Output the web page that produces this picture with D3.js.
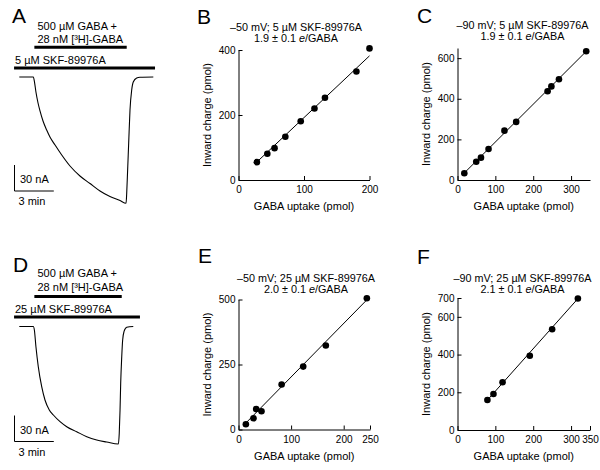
<!DOCTYPE html>
<html><head><meta charset="utf-8">
<script src="https://cdn.jsdelivr.net/npm/d3@7"></script>
<style>
body{margin:0;background:#fff}
svg{display:block}
text{font-family:"Liberation Sans",Arial,Helvetica,sans-serif;fill:#000}
</style>
</head><body>
<svg id="c" width="600" height="470"></svg>
<script>
// ---------- Data ----------
// Panel A trace (5 µM SKF-89976A): time (min), current (nA)
const traceA_time = [0, 1.07, 1.16, 1.27, 1.43, 1.58, 1.81, 2.09, 2.34, 2.73, 3.24, 3.87, 4.63, 5.40, 6.16, 6.92, 7.69, 8.15, 8.20, 8.27, 8.35, 8.45, 8.58, 8.70, 8.96, 9.21, 10.23];
const traceA_curr = [0, 0, -5.8, -17.3, -30, -39.2, -50.8, -61.2, -69.2, -78.5, -90, -102.7, -114.2, -122.9, -131.5, -137.9, -142.5, -145.7, -133.8, -107.3, -76.2, -38.1, -15, -5.8, -1.2, -0.3, 0];
// Panel D trace (25 µM SKF-89976A)
const traceD_time = [0, 1.07, 1.15, 1.27, 1.45, 1.71, 1.96, 2.29, 2.60, 3.11, 3.62, 4.38, 5.15, 5.91, 6.67, 7.56, 7.63, 7.69, 7.74, 7.82, 7.89, 7.99, 8.20, 8.70];
const traceD_curr = [0, 0, -4, -23.3, -46.4, -69.5, -84.8, -96.3, -102.1, -109.8, -115.6, -121.4, -127.2, -131, -133.3, -135.6, -123.2, -96.3, -65.5, -34.8, -15.6, -6, -0.9, 0];
// Application periods (min): [start, end]
const gabaA = [1.15, 8.2], skfA = [-0.4, 10.36];
const gabaD = [1.15, 7.82], skfD = [-0.4, 9.21];
const scaleBarCurrent = 30; // nA
const scaleBarTime = 3;     // min

// Scatter panels: GABA uptake (pmol) vs inward charge (pmol)
const B_uptake = [28, 44, 55, 71.5, 95, 116, 132, 180, 200];
const B_charge = [55, 81, 98, 133, 181, 220, 253, 334, 405];
const C_uptake = [18, 49.5, 62, 82, 124, 155, 238, 248, 268, 340];
const C_charge = [33, 90, 110, 153, 243, 286, 437, 461, 496, 634];
const E_uptake = [14, 28.5, 33.6, 43.7, 82, 123, 166, 244];
const E_charge = [20, 43, 79, 70, 173, 242, 323, 505];
const F_uptake = [79, 95, 119, 191, 250, 318];
const F_charge = [159, 191, 253, 394, 534, 697];
const fitSlope = [1.9, 1.86, 2.06, 2.25];
const fitIntercept = [2, 1, -4, -19];

const B_xTicks = [0, 100, 200], B_yTicks = [0, 200, 400];
const C_xTicks = [0, 100, 200, 300], C_yTicks = [0, 200, 400, 600];
const E_xTicks = [0, 100, 200, 250], E_yTicks = [0, 250, 500];
const F_xTicks = [0, 100, 200, 300, 350], F_yTicks = [0, 200, 400, 600, 700];

const titles1 = ["\u201350 mV; 5 \u00b5M SKF-89976A", "\u201390 mV; 5 \u00b5M SKF-89976A", "\u201350 mV; 25 \u00b5M SKF-89976A", "\u201390 mV; 25 \u00b5M SKF-89976A"];
const ratios = ["1.9 \u00b1 0.1 ", "1.9 \u00b1 0.1 ", "2.0 \u00b1 0.1 ", "2.1 \u00b1 0.1 "];

// ---------- Drawing ----------
const svg = d3.select('#c');
const FONT = '"Liberation Sans",Arial,Helvetica,sans-serif';

function letter(t, x, y) {
  svg.append('text').attr('x', x).attr('y', y).attr('font-size', 21).text(t);
}

function tracePanel(o) {
  const x = d3.scaleLinear().domain([0, 1]).range([o.px0, o.px0 + 13.1]);
  const y = d3.scaleLinear().domain([0, -30]).range([o.py0, o.py0 + 26]);
  const g = svg.append('g');
  const line = d3.line().x((d, i) => x(o.time[i])).y((d, i) => y(o.curr[i])).curve(d3.curveMonotoneX);
  g.append('path').attr('d', line(o.time)).attr('fill', 'none').attr('stroke', '#000').attr('stroke-width', 1.1);
  // application bars
  g.append('line').attr('x1', x(o.gaba[0])).attr('x2', x(o.gaba[1])).attr('y1', o.gabaY).attr('y2', o.gabaY)
    .attr('stroke', '#000').attr('stroke-width', 3);
  g.append('line').attr('x1', x(o.skf[0])).attr('x2', x(o.skf[1])).attr('y1', o.skfY).attr('y2', o.skfY)
    .attr('stroke', '#000').attr('stroke-width', 3);
  g.append('text').attr('x', o.txtX).attr('y', o.gabaY - o.l1).attr('font-size', 11).text('500 \u00b5M GABA +');
  g.append('text').attr('x', o.txtX).attr('y', o.gabaY - o.l2).attr('font-size', 11).text('28 nM [\u00b3H]-GABA');
  g.append('text').attr('x', 15).attr('y', o.skfY - 4).attr('font-size', 11).text(o.skfLabel);
  // scale bars
  const cx = 14.5, cy = o.barY;
  const vLen = y(-scaleBarCurrent) - y(0);
  const hLen = x(scaleBarTime) - x(0);
  g.append('path').attr('d', `M${cx},${cy - vLen}V${cy}H${cx + hLen}`).attr('fill', 'none').attr('stroke', '#000').attr('stroke-width', 1);
  g.append('text').attr('x', 20).attr('y', cy - 8).attr('font-size', 11).text(scaleBarCurrent + ' nA');
  g.append('text').attr('x', 18.5).attr('y', cy + 14).attr('font-size', 11).text(scaleBarTime + ' min');
}

tracePanel({time: traceA_time, curr: traceA_curr, px0: 19.3, py0: 77, gaba: gabaA, skf: skfA,
  gabaY: 47.3, skfY: 68, txtX: 37.5, l1: 17.8, l2: 4.6, skfLabel: '5 \u00b5M SKF-89976A', barY: 191});
tracePanel({time: traceD_time, curr: traceD_curr, px0: 19.3, py0: 326.5, gaba: gabaD, skf: skfD,
  gabaY: 296.5, skfY: 317, txtX: 37.5, l1: 20, l2: 5.5, skfLabel: '25 \u00b5M SKF-89976A', barY: 441.5});

function scatterPanel(o) {
  const x = d3.scaleLinear().domain(o.xDomain).range([o.x0, o.x1]);
  const y = d3.scaleLinear().domain(o.yDomain).range([o.y0, o.y1]);
  const g = svg.append('g');
  const ax = g.append('g').attr('transform', `translate(0,${o.y0})`)
    .call(d3.axisBottom(x).tickValues(o.xTicks).tickSize(-4).tickSizeOuter(0).tickPadding(6).tickFormat(d3.format('d')));
  const ay = g.append('g').attr('transform', `translate(${o.x0},0)`)
    .call(d3.axisLeft(y).tickValues(o.yTicks).tickSize(-4).tickSizeOuter(0).tickPadding(3).tickFormat(d3.format('d')));
  [ax, ay].forEach(a => {
    a.attr('font-family', FONT).attr('font-size', 10);
    a.selectAll('path,line').attr('stroke', '#000');
    a.selectAll('text').attr('fill', '#111');
  });
  // fit line
  const ext = d3.extent(o.xs);
  g.append('line').attr('x1', x(ext[0])).attr('x2', x(ext[1]))
    .attr('y1', y(o.slope * ext[0] + o.intercept)).attr('y2', y(o.slope * ext[1] + o.intercept))
    .attr('stroke', '#000').attr('stroke-width', 1);
  g.selectAll('circle.pt').data(o.xs).join('circle').attr('class', 'pt')
    .attr('cx', d => x(d)).attr('cy', (d, i) => y(o.ys[i])).attr('r', 3.3).attr('fill', '#000');
  // titles
  g.append('text').attr('x', o.tx).attr('y', o.t1y).attr('text-anchor', 'middle').attr('font-size', 10.8).text(o.title);
  const t2 = g.append('text').attr('x', o.tx).attr('y', o.t1y + 11).attr('text-anchor', 'middle').attr('font-size', 10.8);
  t2.append('tspan').text(o.ratio);
  t2.append('tspan').attr('font-style', 'italic').text('e');
  t2.append('tspan').text('/GABA');
  // axis labels
  g.append('text').attr('x', (o.x0 + o.x1) / 2).attr('y', o.y0 + 30).attr('text-anchor', 'middle').attr('font-size', 11)
    .text('GABA uptake (pmol)');
  g.append('text').attr('transform', `translate(${o.x0 - 28},${(o.y0 + o.y1) / 2}) rotate(-90)`)
    .attr('text-anchor', 'middle').attr('font-size', 11).text('Inward charge (pmol)');
}

scatterPanel({xs: B_uptake, ys: B_charge, xDomain: [0, 200], yDomain: [0, 400], xTicks: B_xTicks, yTicks: B_yTicks,
  x0: 238.5, x1: 369.5, y0: 180, y1: 50, slope: fitSlope[0], intercept: fitIntercept[0],
  title: titles1[0], ratio: ratios[0], tx: 296, t1y: 30.5});
scatterPanel({xs: C_uptake, ys: C_charge, xDomain: [0, 350], yDomain: [0, 650], xTicks: C_xTicks, yTicks: C_yTicks,
  x0: 457.5, x1: 590, y0: 180, y1: 48, slope: fitSlope[1], intercept: fitIntercept[1],
  title: titles1[1], ratio: ratios[1], tx: 522.5, t1y: 29});
scatterPanel({xs: E_uptake, ys: E_charge, xDomain: [0, 250], yDomain: [0, 500], xTicks: E_xTicks, yTicks: E_yTicks,
  x0: 238.5, x1: 370, y0: 429.5, y1: 299.5, slope: fitSlope[2], intercept: fitIntercept[2],
  title: titles1[2], ratio: ratios[2], tx: 306, t1y: 282});
scatterPanel({xs: F_uptake, ys: F_charge, xDomain: [0, 350], yDomain: [0, 700], xTicks: F_xTicks, yTicks: F_yTicks,
  x0: 457.5, x1: 590, y0: 430, y1: 298, slope: fitSlope[3], intercept: fitIntercept[3],
  title: titles1[3], ratio: ratios[3], tx: 522.5, t1y: 282});

letter('A', 12, 23);
letter('B', 197, 23.5);
letter('C', 417, 23);
letter('D', 13, 272);
letter('E', 198, 263);
letter('F', 417, 264);
</script>
</body></html>
